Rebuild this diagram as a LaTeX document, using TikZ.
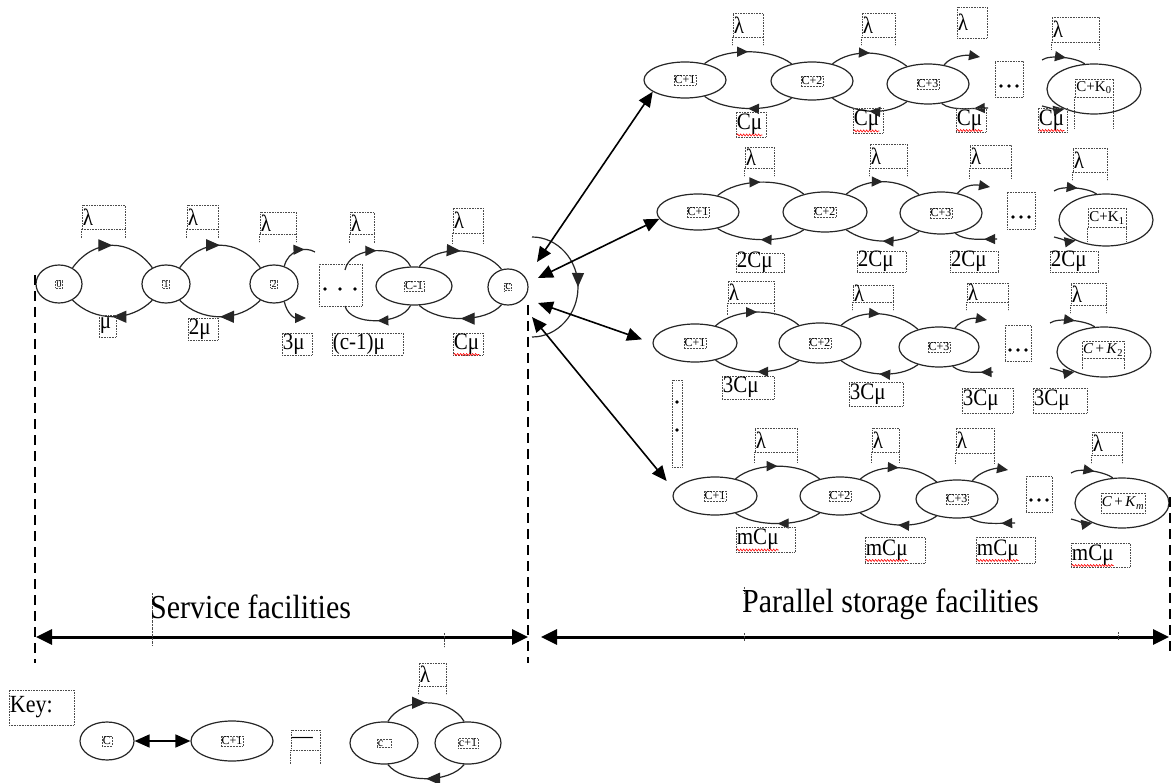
\documentclass[tikz,border=0pt]{standalone}
\usepackage{fontspec}
\setmainfont{Liberation Serif}
\usepackage{graphicx}
\usetikzlibrary{arrows.meta,shapes.geometric,decorations.markings,decorations.pathmorphing}
\newcommand\VS[1]{\scalebox{1}[1.12]{#1}}
\newcommand\LabFont{\fontsize{21}{23}\selectfont}
\newcommand\NdFont{\fontsize{12}{13}\selectfont}
\newcommand\TnFont{\fontsize{10}{11}\selectfont}
\newcommand\KFont{\fontsize{15}{16}\selectfont}
\newcommand\BigFont{\fontsize{30}{34}\selectfont}
\tikzset{
  st/.style={ellipse, draw=black!85, line width=1.2pt, inner sep=0pt},
  nlab/.style={draw=black!70, densely dotted, line width=0.5pt, inner sep=0.8pt},
  lbx/.style={rectangle, draw=black!70, densely dotted, line width=0.6pt, inner sep=0pt},
  dotl/.style={draw=black!70, densely dotted, line width=0.6pt},
  arcst/.style={color=black!85, line width=1.2pt},
  fwd/.style={postaction={decorate,decoration={markings,mark=at position #1 with {\arrow{Triangle[length=11pt,width=10pt]}}}}},
  fwd/.default=0.5,
  fwdb/.style={postaction={decorate,decoration={markings,mark=at position #1 with {\arrow{Triangle[length=14pt,width=12pt]}}}}},
  fwdb/.default=0.5,
  endarr/.style={-{Triangle[length=11pt,width=10pt]}},
  dbl/.style={{Triangle[length=15pt,width=13pt]}-{Triangle[length=15pt,width=13pt]}, line width=1.6pt, black},
  bigarr/.style={{Triangle[length=16pt,width=15pt]}-{Triangle[length=16pt,width=15pt]}, line width=3pt, black},
  dsh/.style={line width=1.6pt, black, dash pattern=on 10pt off 6pt},
  spell/.style={red, line width=0.6pt, decorate, decoration={snake, amplitude=1pt, segment length=3pt}},
}
% ellipse state with dotted label box
\newcommand\MkSt[7]{\node[st, minimum width=#4, minimum height=#5] (#1) at (#2,#3) {};
  \node[nlab, font=#6] (#1t) at (#1) {#7};}
% dotted label box with text at left
\newcommand\MkLB[6]{\node[lbx, minimum width={(#4)-(#2)}, minimum height={(#5)-(#3)}] (#1) at ({((#2)+(#4))/2},{((#3)+(#5))/2}) {};
  \node[anchor=west, inner sep=0pt, font=\LabFont] (#1t) at ([xshift=1pt]#1.west) {\VS{#6}};}
\newcommand\MkEx[2]{\draw[dotl] (#1.south west) -- ++(0,#2) (#1.south east) -- ++(0,#2);}
\newcommand\ArcU[3]{\draw[arcst,fwd] (#1.40) .. controls +(20,-#3) and +(-20,-#3) .. (#2.140);}
\newcommand\ArcL[3]{\draw[arcst,fwd] (#2.220) .. controls +(-20,#3) and +(20,#3) .. (#1.320);}
\newcommand\ThreeDots[3]{\fill ({#1-#3},#2) circle (1.8) (#1,#2) circle (1.8) ({#1+#3},#2) circle (1.8);}
\begin{document}
\begin{tikzpicture}[x=1pt,y=-1pt]
\fill[white] (0,0) rectangle (1175,783);
\useasboundingbox (0,0) rectangle (1175,783);

%% ---------------- service facilities row
\MkSt{n0}{59}{284}{46}{38}{\TnFont}{0}
\MkSt{n1}{166}{284}{48}{38}{\TnFont}{1}
\MkSt{n2}{274}{284}{48}{38}{\TnFont}{2}
\MkSt{cm1}{414}{286}{76}{38}{\NdFont}{C-1}
\MkSt{c}{508}{287}{40}{36}{\NdFont}{c}

\draw[arcst,fwdb] (n0.50) .. controls +(22,-30) and +(-22,-30) .. (n1.130);
\draw[arcst,fwdb] (n1.230) .. controls +(-22,22) and +(22,22) .. (n0.310);
\draw[arcst,fwdb] (n1.50) .. controls +(22,-30) and +(-22,-30) .. (n2.130);
\draw[arcst,fwdb] (n2.230) .. controls +(-22,22) and +(22,22) .. (n1.310);
\coordinate (n2u) at (315,252);
\coordinate (n2d) at (306,318);
\draw[arcst,fwd=0.72] (n2.60) .. controls +(4,-16) and +(-10,-6) .. (n2u);
\draw[arcst,endarr] (n2.300) .. controls +(3,12) and +(-12,0) .. (n2d);

\node[lbx, minimum width=43, minimum height=42] (sdots) at (340.5,285) {};
\ThreeDots{340}{289}{15}
\coordinate (cu) at (345,270);
\coordinate (cd) at (345,306);
\draw[arcst,fwd] (cu) .. controls +(5,-25) and +(-10,-22) .. (cm1.100);
\draw[arcst,fwd] (cm1.260) .. controls +(-10,20) and +(5,20) .. (cd);
\draw[arcst,fwdb] (cm1.75) .. controls +(20,-25) and +(-15,-20) .. (c.110);
\draw[arcst,fwdb] (c.250) .. controls +(-15,18) and +(20,18) .. (cm1.285);
\coordinate (lpa) at (532,237);
\draw[arcst,fwdb] (lpa) arc[start angle=-90, end angle=90, x radius=46, y radius=50];

\MkLB{sl1}{82}{205}{125}{229}{λ} \MkEx{sl1}{9}
\MkLB{sl2}{187}{205}{218}{229}{λ} \MkEx{sl2}{9}
\MkLB{sl3}{260}{212}{296}{234}{λ} \MkEx{sl3}{8}
\MkLB{sl4}{350}{212}{374}{234}{λ} \MkEx{sl4}{9}
\MkLB{sl5}{453}{208}{483}{233}{λ} \MkEx{sl5}{10}
\MkLB{sm1}{99}{315}{116}{337}{μ}
\MkLB{sm2}{188}{318}{218}{340}{2μ}
\MkLB{sm3}{282}{333}{312}{355}{3μ}
\MkLB{sm4}{332}{333}{403}{355}{(c-1)μ}
\MkLB{sm5}{453}{333}{483}{355}{Cμ}
\draw[spell] (sm5t.south west) -- (sm5t.south east);

%% ---------------- storage rows: nodes
\MkSt{r1a}{685}{80}{82}{36}{\NdFont}{C+1}
\MkSt{r1b}{812}{81}{82}{38}{\NdFont}{C+2}
\MkSt{r1c}{928}{84}{82}{40}{\NdFont}{C+3}
\node[st, minimum width=94, minimum height=50] (r1k) at (1094,89) {};
\node[nlab, minimum width=38, minimum height=18, font=\KFont] (r1kt) at (1094,88) {C+K\textsubscript{0}};
\MkEx{r1kt}{31}

\MkSt{r2a}{698}{212}{82}{36}{\NdFont}{C+1}
\MkSt{r2b}{825}{212}{84}{40}{\NdFont}{C+2}
\MkSt{r2c}{941}{213}{82}{42}{\NdFont}{C+3}
\node[st, minimum width=94, minimum height=52] (r2k) at (1106,220) {};
\node[nlab, minimum width=38, minimum height=19, font=\KFont] (r2kt) at (1107,218) {C+K\textsubscript{1}};
\MkEx{r2kt}{14}

\MkSt{r3a}{695}{343}{84}{38}{\NdFont}{C+1}
\MkSt{r3b}{820}{343}{82}{40}{\NdFont}{C+2}
\MkSt{r3c}{939}{347}{80}{40}{\NdFont}{C+3}
\node[st, minimum width=94, minimum height=50] (r3k) at (1104,352) {};
\node[nlab, minimum width=40, minimum height=17, font=\KFont] (r3kt) at (1103,350) {\textit{C}\,+\,\textit{K}\textsubscript{2}};
\MkEx{r3kt}{10}

\MkSt{r4a}{715}{496}{84}{38}{\NdFont}{C+1}
\MkSt{r4b}{840}{496}{80}{38}{\NdFont}{C+2}
\MkSt{r4c}{957}{499}{82}{38}{\NdFont}{C+3}
\node[st, minimum width=94, minimum height=50] (r4k) at (1122,503) {};
\node[nlab, minimum width=39, minimum height=20, font=\KFont] (r4kt) at (1123,503) {\textit{C}\,+\,\textit{K}\textsubscript{\textit{m}}};

%% ---------------- storage rows: arcs
\ArcU{r1a}{r1b}{16} \ArcL{r1a}{r1b}{15}
\ArcU{r1b}{r1c}{16} \ArcL{r1b}{r1c}{15}
\ArcU{r2a}{r2b}{17} \ArcL{r2a}{r2b}{14}
\ArcU{r2b}{r2c}{17} \ArcL{r2b}{r2c}{14}
\ArcU{r3a}{r3b}{18} \ArcL{r3a}{r3b}{15}
\ArcU{r3b}{r3c}{18} \ArcL{r3b}{r3c}{15}
\ArcU{r4a}{r4b}{17} \ArcL{r4a}{r4b}{14}
\ArcU{r4b}{r4c}{17} \ArcL{r4b}{r4c}{14}

% short arcs out of C+3 and into C+K
\coordinate (r1cu) at (980,57);   \coordinate (r1cd) at (988,108);
\coordinate (r1ku) at (1042,60);  \coordinate (r1kd) at (1042,106);
\coordinate (r2cu) at (990,187);  \coordinate (r2cd) at (997,239);
\coordinate (r2ku) at (1054,191); \coordinate (r2kd) at (1054,237);
\coordinate (r3cu) at (987,320);  \coordinate (r3cd) at (993,372);
\coordinate (r3ku) at (1050,323); \coordinate (r3kd) at (1050,368);
\coordinate (r4cu) at (1008,470); \coordinate (r4cd) at (1015,523);
\coordinate (r4ku) at (1071,473); \coordinate (r4kd) at (1071,519);
\foreach \r in {r1,r2,r3,r4}{
  \draw[arcst,endarr] (\r c.50) .. controls +(8,-10) and +(-12,-2) .. (\r cu);
  \draw[arcst,fwd=0.3] (\r cd) .. controls +(-15,0) and +(10,8) .. (\r c.305);
  \draw[arcst,fwd=0.55] (\r ku) .. controls +(8,-6) and +(-8,-6) .. (\r k.110);
  \draw[arcst,endarr] (\r kd) .. controls +(8,2) and +(-6,1) .. (\r k.214);
}

% dots boxes
\node[lbx, minimum width=28, minimum height=36] (dt1) at (1009,79) {};
\ThreeDots{1009}{86}{8}
\node[lbx, minimum width=28, minimum height=37] (dt2) at (1021,210.5) {};
\ThreeDots{1021}{217}{8}
\node[lbx, minimum width=26, minimum height=36] (dt3) at (1018,343) {};
\ThreeDots{1018}{350}{8}
\node[lbx, minimum width=26, minimum height=36] (dt4) at (1039,494) {};
\ThreeDots{1039}{500}{8}
\node[lbx, minimum width=10, minimum height=87] (vdt) at (677,423.5) {};
\fill (677,402) circle (1.8) (677,430) circle (1.8);

% labels row 1
\MkLB{la1}{733}{13}{763}{37}{λ} \MkEx{la1}{8}
\MkLB{la2}{862}{13}{895}{37}{λ} \MkEx{la2}{8}
\MkLB{la3}{957}{7}{987}{38}{λ}
\MkLB{la4}{1052}{17}{1099}{42}{λ} \MkEx{la4}{7}
\MkLB{ma1}{736}{112}{766}{137}{Cμ}
\MkLB{ma2}{853}{108}{883}{133}{Cμ}
\MkLB{ma3}{956}{108}{986}{132}{Cμ}
\MkLB{ma4}{1038}{108}{1067}{132}{Cμ}
% labels row 2
\MkLB{lb1}{745}{147}{774}{168}{λ} \MkEx{lb1}{8}
\MkLB{lb2}{870}{144}{907}{168}{λ} \MkEx{lb2}{8}
\MkLB{lb3}{970}{145}{1011}{168}{λ} \MkEx{lb3}{10}
\MkLB{lb4}{1073}{148}{1107}{172}{λ} \MkEx{lb4}{8}
\MkLB{mb1}{736}{253}{784}{272}{2Cμ}
\MkLB{mb2}{857}{251}{906}{272}{2Cμ}
\MkLB{mb3}{950}{251}{998}{272}{2Cμ}
\MkLB{mb4}{1050}{251}{1098}{272}{2Cμ}
% labels row 3
\MkLB{lc1}{728}{281}{774}{303}{λ} \MkEx{lc1}{12}
\MkLB{lc2}{853}{285}{893}{302}{λ} \MkEx{lc2}{8}
\MkLB{lc3}{967}{283}{1008}{302}{λ} \MkEx{lc3}{8}
\MkLB{lc4}{1071}{283}{1106}{305}{λ} \MkEx{lc4}{8}
\MkLB{mc1}{722}{376}{774}{399}{3Cμ}
\MkLB{mc2}{849}{382}{903}{406}{3Cμ}
\MkLB{mc3}{962}{388}{1013}{413}{3Cμ}
\MkLB{mc4}{1033}{388}{1087}{413}{3Cμ}
% labels row 4
\MkLB{ld1}{755}{428}{797}{452}{λ} \MkEx{ld1}{10}
\MkLB{ld2}{872}{428}{899}{452}{λ} \MkEx{ld2}{10}
\MkLB{ld3}{956}{428}{994}{453}{λ} \MkEx{ld3}{10}
\MkLB{ld4}{1092}{432}{1122}{455}{λ} \MkEx{ld4}{8}
\MkLB{md1}{736}{527}{795}{552}{mCμ}
\MkLB{md2}{865}{537}{925}{563}{mCμ}
\MkLB{md3}{976}{537}{1035}{563}{mCμ}
\MkLB{md4}{1071}{543}{1130}{567}{mCμ}
\foreach \m in {ma1,ma2,ma3,ma4,md1,md2,md3,md4}{
  \draw[spell] (\m t.south west) -- (\m t.south east);
}

%% ---------------- links from c to the storage rows
\coordinate (t1) at (537,262);
\coordinate (t2) at (538,278);
\coordinate (t3) at (538,303);
\coordinate (t4) at (532,317);
\draw[dbl] (t1) -- (r1a.200);
\draw[dbl] (t2) -- (r2a.190);
\draw[dbl, shorten >=11pt] (t3) -- (r3a.180);
\draw[dbl, shorten >=12pt] (t4) -- (r4a.172);

%% ---------------- dashed limits and range arrows
\coordinate (dA1) at (35,275);   \coordinate (dA2) at (35,663);
\coordinate (dB1) at (528,305);  \coordinate (dB2) at (528,663);
\coordinate (dC1) at (1170,497); \coordinate (dC2) at (1170,652);
\draw[dsh] (dA1) -- (dA2);
\draw[dsh] (dB1) -- (dB2);
\draw[dsh] (dC1) -- (dC2);
\coordinate (sL) at (36,637);  \coordinate (sR) at (528,637);
\coordinate (pL) at (541,637); \coordinate (pR) at (1169,637);
\draw[bigarr] (sL) -- (sR);
\draw[bigarr] (pL) -- (pR);
\draw[dotl, line width=0.4pt] (152,593) -- (152,645);
\draw[dotl, line width=0.4pt] (444,633) -- (444,647);
\draw[dotl, line width=0.4pt] (744,587) -- (744,593) (744,633) -- (744,641);
\draw[dotl, line width=0.4pt] (1118,632) -- (1118,640);
\node[anchor=west, inner sep=0pt, font=\BigFont] (sfac) at (150,607) {\VS{Service facilities}};
\node[anchor=west, inner sep=0pt, font=\BigFont] (pfac) at (742,604) {\VS{Parallel storage facilities}};

%% ---------------- key
\node[lbx, minimum width=65, minimum height=35] (keyb) at (41.5,707.5) {};
\node[anchor=west, inner sep=0pt, font=\fontsize{22}{24}\selectfont] (keyt) at ([xshift=1pt]keyb.west) {\VS{Key:}};
\MkSt{kC}{107}{741}{54}{38}{\NdFont}{C}
\MkSt{kC1}{232}{741}{82}{40}{\NdFont}{C+1}
\draw[dbl] (kC) -- (kC1);
\MkLB{keq}{291}{730}{320}{750}{—} \MkEx{keq}{13}
\MkSt{kc}{384}{743}{68}{42}{\NdFont}{c\phantom{+}}
\MkSt{kc1}{468}{743}{66}{42}{\NdFont}{c+1}
\draw[arcst,fwdb] (kc.80) .. controls +(15,-25) and +(-15,-25) .. (kc1.100);
\draw[arcst,fwdb] (kc1.260) .. controls +(-15,19) and +(15,19) .. (kc.280);
\MkLB{kl}{419}{663}{446}{686}{λ} \MkEx{kl}{8}
\end{tikzpicture}
\end{document}
